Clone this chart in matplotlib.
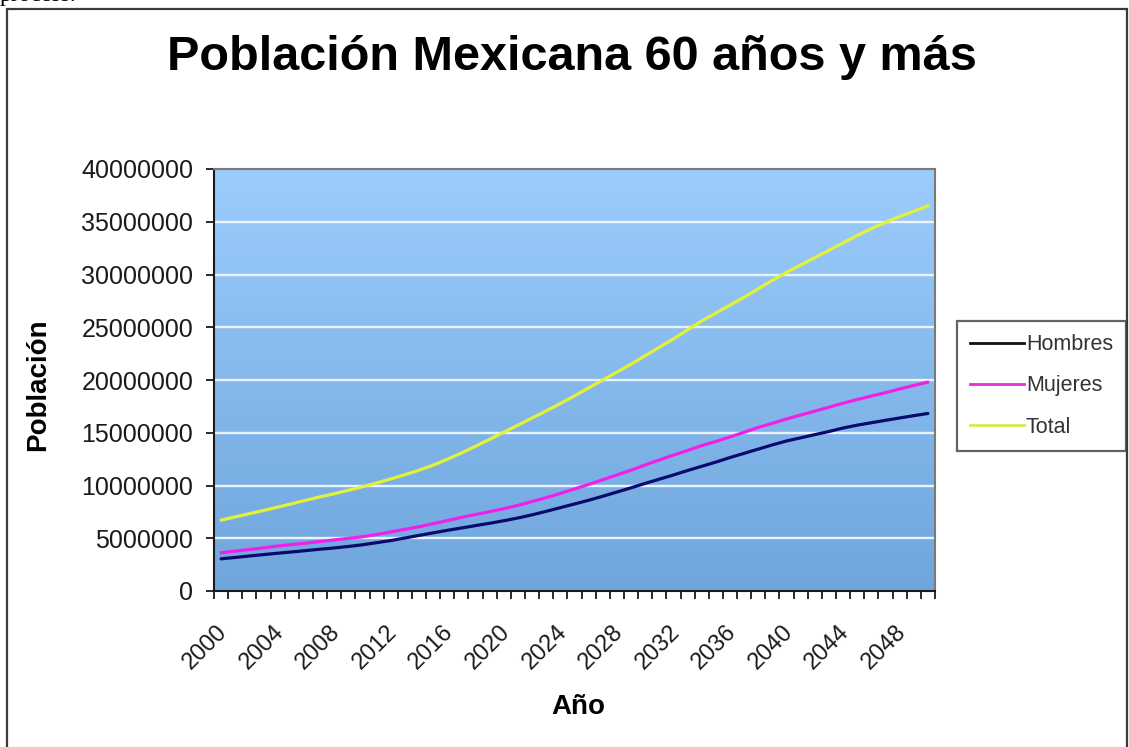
import numpy as np
import matplotlib
matplotlib.use("Agg")
import matplotlib.pyplot as plt
import matplotlib.transforms as mtransforms
from matplotlib.patches import Rectangle
from matplotlib.lines import Line2D

plt.rcParams['font.family'] = ['Liberation Sans', 'DejaVu Sans']

# Años de la proyección
years = list(range(2000, 2051))

# Población de 60 años y más (millones de personas)
hombres = [3.05, 3.18, 3.32, 3.45, 3.58, 3.70, 3.83, 3.96, 4.08, 4.22,
           4.38, 4.58, 4.78, 5.02, 5.27, 5.51, 5.75, 5.97, 6.20, 6.42,
           6.66, 6.92, 7.22, 7.55, 7.90, 8.25, 8.60, 8.98, 9.38, 9.78,
           10.20, 10.60, 11.00, 11.42, 11.82, 12.22, 12.65, 13.05, 13.45, 13.85,
           14.22, 14.52, 14.82, 15.12, 15.45, 15.72, 15.95, 16.18, 16.40, 16.62,
           16.83]
mujeres = [3.63, 3.78, 3.93, 4.09, 4.26, 4.40, 4.54, 4.69, 4.84, 4.99,
           5.14, 5.35, 5.60, 5.84, 6.09, 6.38, 6.67, 6.98, 7.25, 7.52,
           7.80, 8.12, 8.48, 8.85, 9.25, 9.67, 10.10, 10.55, 11.00, 11.45,
           11.95, 12.42, 12.88, 13.32, 13.78, 14.18, 14.60, 15.05, 15.50, 15.90,
           16.30, 16.68, 17.05, 17.42, 17.80, 18.15, 18.48, 18.80, 19.15, 19.48,
           19.80]
total = [6.72, 7.02, 7.33, 7.63, 7.95, 8.27, 8.60, 8.92, 9.22, 9.55,
         9.88, 10.24, 10.62, 11.02, 11.45, 11.93, 12.48, 13.08, 13.72, 14.38,
         15.05, 15.72, 16.40, 17.07, 17.77, 18.50, 19.25, 20.00, 20.75, 21.50,
         22.30, 23.10, 23.90, 24.75, 25.60, 26.35, 27.10, 27.85, 28.65, 29.45,
         30.20, 30.90, 31.60, 32.30, 33.00, 33.70, 34.35, 34.95, 35.50, 36.00,
         36.50]
series_names = ["Hombres", "Mujeres", "Total"]
y_ticks = list(range(0, 40000001, 5000000))

W, H = 1129, 747
fig = plt.figure(figsize=(W / 100, H / 100), dpi=100)
fig.patch.set_facecolor("white")

# marco exterior del gráfico
frame = Rectangle((7 / W, -0.02), (1127 - 7) / W, 1 - 9 / H + 0.02,
                  transform=fig.transFigure, fill=False,
                  edgecolor="#3a3a3a", linewidth=1.6, zorder=0)
fig.add_artist(frame)

# final de la línea de texto anterior, cortado por el borde superior
fig.text(0 / W, 1 - 1 / H, "process.", family="Liberation Serif",
         fontsize=17, ha="left", va="baseline", color="black")

ax = fig.add_axes([214 / W, 1 - 591 / H, (935 - 214) / W, (591 - 169) / H])

x = np.arange(len(years))
ax.set_xlim(-0.5, len(years) - 0.5)
ax.set_ylim(0, 40000000)

# fondo degradado del área de trazado
grad = np.linspace(0, 1, 256).reshape(-1, 1)
top_c = np.array([0.612, 0.800, 0.988])
bot_c = np.array([0.435, 0.650, 0.865])
img = bot_c[None, None, :] * (1 - grad[:, :, None]) + top_c[None, None, :] * grad[:, :, None]
ax.imshow(img, extent=[-0.5, len(years) - 0.5, 0, 40000000], origin="lower",
          aspect="auto", zorder=0, interpolation="bilinear")

for v in y_ticks[1:-1]:
    ax.axhline(v, color="#eaf4fe", linewidth=1.7, zorder=1)

scale = 1e6
ax.plot(x, np.array(hombres) * scale, color="#0a0a6e", linewidth=2.3, zorder=3,
        solid_capstyle="round")
ax.plot(x, np.array(mujeres) * scale, color="#f020e8", linewidth=2.3, zorder=3,
        solid_capstyle="round")
ax.plot(x, np.array(total) * scale, color="#e2f23a", linewidth=2.3, zorder=3,
        solid_capstyle="round")

for side in ["top", "right"]:
    ax.spines[side].set_color("#7a7a7a")
    ax.spines[side].set_linewidth(1.5)
for side in ["left", "bottom"]:
    ax.spines[side].set_color("#1a1a1a")
    ax.spines[side].set_linewidth(1.5)

ax.set_yticks(y_ticks)
ax.set_yticklabels([str(v) for v in y_ticks])
ax.tick_params(axis="y", direction="out", length=6, width=1.3, pad=9,
               labelsize=18, colors="#1a1a1a")

label_idx = list(range(0, len(years), 4))
ax.set_xticks(label_idx)
ax.set_xticklabels([str(years[i]) for i in label_idx], rotation=45,
                   rotation_mode="anchor", ha="right", va="center")
ax.set_xticks(np.arange(-0.5, len(years), 1.0), minor=True)
ax.tick_params(axis="x", which="major", length=0, pad=27, labelsize=17,
               colors="#1a1a1a")
ax.tick_params(axis="x", which="minor", direction="out", length=6, width=1.3,
               color="#1a1a1a")
shift = mtransforms.ScaledTranslation(3 / 100, 0, fig.dpi_scale_trans)
for lab in ax.get_xticklabels():
    lab.set_transform(lab.get_transform() + shift)

ax.set_xlabel("Año", fontsize=20, fontweight="bold")
ax.xaxis.label.set_va("center")
ax.xaxis.set_label_coords((578 - 214) / 721, (591 - 707) / 422)
ax.set_ylabel("Población", fontsize=20, fontweight="bold")
ax.yaxis.label.set_va("center")
ax.yaxis.set_label_coords((38 - 214) / 721, (591 - 385) / 422)

fig.text(572 / W, 1 - 57 / H, "Población Mexicana 60 años y más",
         fontsize=35, fontweight="bold", ha="center", va="center")

handles = [Line2D([], [], color="#111111", linewidth=2),
           Line2D([], [], color="#e030d8", linewidth=2),
           Line2D([], [], color="#d8e84a", linewidth=2)]
leg = fig.legend(handles, series_names, loc="center left",
                 bbox_to_anchor=(957 / W, 1 - 386 / H), fontsize=15.5,
                 frameon=True, fancybox=False, handlelength=2.5,
                 handletextpad=0.1, labelspacing=0.95, borderpad=0.6,
                 borderaxespad=0)
leg.get_frame().set_edgecolor("#3c3c3c")
leg.get_frame().set_linewidth(1.6)
for t in leg.get_texts():
    t.set_color("#333333")

fig.savefig("out.png", dpi=100)
